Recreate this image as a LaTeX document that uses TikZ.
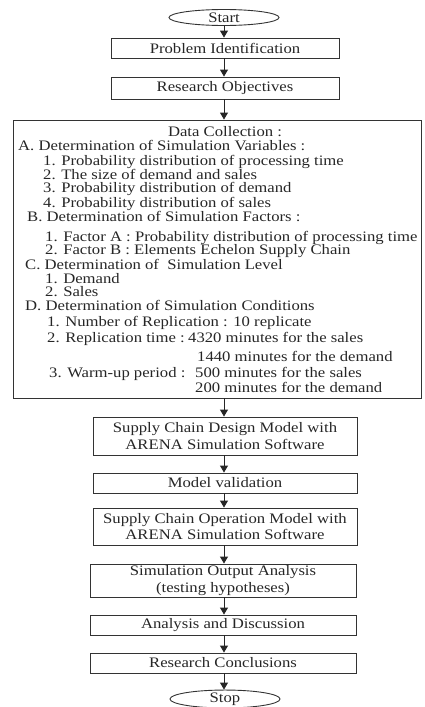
\documentclass[tikz,border=0pt]{standalone}
\usepackage{fontspec}
\setmainfont{Liberation Serif}[FakeStretch=1.15]
\usepackage{tikz}
\usetikzlibrary{arrows.meta,shapes.geometric}

\begin{document}
\begin{tikzpicture}
  [x=1pt,y=-1pt,
   every node/.style={inner sep=0pt,text=black!85,font=\fontsize{14.5}{16.5}\selectfont},
   box/.style={draw=black!80,line width=.9pt,rectangle,align=center,minimum height=20pt},
   term/.style={draw=black!80,line width=.9pt,ellipse,minimum width=110pt,minimum height=16pt},
   flow/.style={draw=black!85,line width=.9pt,-{Triangle[length=7pt,width=8pt]}}]
  \useasboundingbox (0,0) rectangle (424,707);

  \node[term] (start) at (224,17.5) {Start};
  \node[box,minimum width=228pt] (pi) at (225,48) {Problem Identification};
  \node[box,minimum width=228pt,minimum height=22pt] (ro) at (225,88) {Research Objectives};
  \node[box,minimum width=408pt,minimum height=278pt] (dc) at (217,259) {};
  \node[box,minimum width=264pt,minimum height=38pt] (scd) at (225,436) {Supply Chain Design Model with\\ARENA Simulation Software};
  \node[box,minimum width=264pt] (mv) at (225,483) {Model validation};
  \node[box,minimum width=264pt,minimum height=37pt] (sco) at (225,526.5) {Supply Chain Operation Model with\\ARENA Simulation Software};
  \node[box,minimum width=266pt,minimum height=33pt] (soa) at (223,580.5) {Simulation Output Analysis\\(testing hypotheses)};
  \node[box,minimum width=266pt] (ad) at (223,625) {Analysis and Discussion};
  \node[box,minimum width=266pt] (rc) at (223,663) {Research Conclusions};
  \node[term] (stop) at (225,699) {Stop};

  % text of the data collection box
  \node[anchor=base] (dtitle) at (225,136) {Data Collection :};
  \foreach \n/\x/\y/\t in {
      a/18/150/A. Determination of Simulation Variables :,
      a1/43/165/1. Probability distribution of processing time,
      a2/43/179/2. The size of demand and sales,
      a3/43/192/3. Probability distribution of demand,
      a4/43/207/4. Probability distribution of sales,
      b/27/221/B. Determination of Simulation Factors :,
      b1/45/241/1. Factor A : Probability distribution of processing time,
      b2/45/254/2. Factor B : Elements Echelon Supply Chain,
      c/25/269/C. Determination of\ \ Simulation Level,
      c1/45/283/1. Demand,
      c2/45/296/2. Sales,
      d/25/310/D. Determination of Simulation Conditions,
      d1/47/326/1. Number of Replication : 10 replicate,
      d2/47/342/2. Replication time :,
      d2s/188/342/4320 minutes for the sales,
      d2d/197/361/1440 minutes for the demand,
      d3/49/377/3. Warm-up period :,
      d3s/195/377/500 minutes for the sales,
      d3d/195/392/200 minutes for the demand}
    \node[anchor=base west] (\n) at (\x,\y) {\t};

  \foreach \from/\to in {start/pi,pi/ro,ro/dc,dc/scd,scd/mv,mv/sco,sco/soa,soa/ad,ad/rc,rc/stop}
    \draw[flow] (start |- \from.south) -- (start |- \to.north);
\end{tikzpicture}
\end{document}
